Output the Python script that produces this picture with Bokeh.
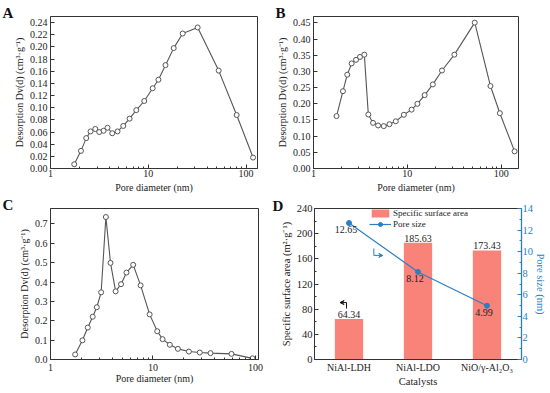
from bokeh.plotting import figure
from bokeh.layouts import column, row
from bokeh.models import (Range1d, FactorRange, LinearAxis, FixedTicker, SingleIntervalTicker,
                          PrintfTickFormatter, NumeralTickFormatter, Legend, LegendItem,
                          Arrow, VeeHead, ColumnDataSource)
from bokeh.core.properties import value
from bokeh.embed import file_html
from bokeh.resources import INLINE

# ---------------- data ----------------
A_d = [1.75, 2.05, 2.32, 2.57, 2.87, 3.15, 3.49, 3.83, 4.28, 4.85, 5.55, 6.44, 7.54, 9.1,
       11.1, 12.7, 15.0, 18.2, 22.5, 32.0, 52.5, 80.2, 118]
A_v = [0.007, 0.029, 0.050, 0.061, 0.065, 0.060, 0.062, 0.067, 0.058, 0.061, 0.070, 0.082,
       0.096, 0.111, 0.132, 0.146, 0.170, 0.198, 0.222, 0.232, 0.161, 0.088, 0.018]

B_d = [1.76, 2.06, 2.29, 2.55, 2.84, 3.13, 3.48, 3.84, 4.31, 4.88, 5.61, 6.45, 7.53, 9.18,
       11.1, 12.8, 15.3, 18.7, 23.4, 31.7, 52.3, 76.9, 96.8, 139]
B_v = [0.162, 0.239, 0.290, 0.325, 0.336, 0.345, 0.352, 0.167, 0.141, 0.133, 0.131, 0.137,
       0.146, 0.166, 0.182, 0.200, 0.227, 0.260, 0.303, 0.352, 0.451, 0.255, 0.171, 0.053]

C_d = [1.74, 2.05, 2.31, 2.58, 2.83, 3.12, 3.47, 3.85, 4.32, 4.88, 5.51, 6.41, 7.57, 9.27,
       11.0, 12.4, 14.6, 17.5, 22.4, 28.6, 36.4, 58.3, 93.5]
C_v = [0.026, 0.099, 0.165, 0.221, 0.270, 0.347, 0.736, 0.499, 0.352, 0.389, 0.449, 0.489,
       0.383, 0.233, 0.146, 0.105, 0.076, 0.055, 0.041, 0.036, 0.033, 0.029, 0.006]

catalysts = ["NiAl-LDH", "NiAl-LDO", "NiO/γ-Al₂O₃"]
surface_area = [64.34, 185.63, 173.43]
pore_size = [12.65, 8.12, 4.99]

x_ticks = [1, 10, 100]
x_label = "Pore diameter (nm)"
y_label = "Desorption Dv(d) (cm³·g⁻¹)"

FONT = "Liberation Serif"
INK = "#222222"
LINE = "#555555"
BAR = "#F98379"
BLUE = "#2a7fc4"


def style_axis(ax, tick_size="10px", label_size="10px"):
    ax.axis_label_text_font = FONT
    ax.axis_label_text_font_style = "normal"
    ax.axis_label_text_font_size = label_size
    ax.axis_label_text_color = INK
    ax.major_label_text_font = FONT
    ax.major_label_text_font_size = tick_size
    ax.major_label_text_color = INK
    ax.axis_line_color = "#333333"
    ax.major_tick_line_color = "#333333"
    ax.minor_tick_line_color = "#333333"
    ax.major_tick_in = 4
    ax.major_tick_out = 0
    ax.minor_tick_in = 2
    ax.minor_tick_out = 0
    ax.major_label_standoff = 3
    ax.axis_label_standoff = 2


def letter(p, txt, offset, standoff):
    p.title.text = txt
    p.title.text_font = FONT
    p.title.text_font_size = "15px"
    p.title.text_font_style = "bold"
    p.title.text_color = "#111111"
    p.title.align = "left"
    p.title.vertical_align = "middle"
    p.title.offset = offset
    p.title.standoff = standoff


def psd_panel(d, v, x_end, y_end, y_step, y_fmt, w, h, bl, br, bt, bb, tag, s1, s2):
    p = figure(width=w, height=h, x_axis_type="log", output_backend="svg",
               toolbar_location=None, x_range=Range1d(1, x_end), y_range=Range1d(0, y_end),
               min_border_left=bl, min_border_right=br, min_border_top=bt, min_border_bottom=bb)
    p.xgrid.visible = False
    p.ygrid.visible = False
    p.outline_line_color = "#333333"
    p.outline_line_width = 1
    p.background_fill_color = "white"
    p.border_fill_color = "white"
    minor = [m * 10 ** e for e in range(0, 3) for m in range(2, 10)]
    p.xaxis.ticker = FixedTicker(ticks=x_ticks, minor_ticks=minor)
    p.xaxis.formatter = NumeralTickFormatter(format="0")
    p.yaxis.ticker = SingleIntervalTicker(interval=y_step, num_minor_ticks=0)
    p.yaxis.formatter = PrintfTickFormatter(format=y_fmt)
    p.xaxis.axis_label = x_label
    p.yaxis.axis_label = y_label
    style_axis(p.xaxis[0])
    style_axis(p.yaxis[0])
    p.xaxis.major_label_standoff = s1
    p.xaxis.axis_label_standoff = s2
    src = ColumnDataSource(dict(d=d, v=v))
    p.line("d", "v", source=src, line_color=LINE, line_width=1.1)
    p.scatter("d", "v", source=src, size=5, marker="circle", line_color=LINE,
              fill_color="white", line_width=1)
    letter(p, tag, 2 - bl, -11)
    return p


pA = psd_panel(A_d, A_v, 131, 0.25, 0.02, "%.2f", 272, 196, 50, 15, 16, 28, "A", 1, 2)
pB = psd_panel(B_d, B_v, 153, 0.47, 0.05, "%.2f", 278, 196, 41, 32, 16, 28, "B", 1, 2)
pC = psd_panel(C_d, C_v, 107, 0.78, 0.1, "%.1f", 272, 197, 50, 14, 12, 34, "C", 4, -1)
pB.title.offset = 3 - 41

# ---------------- panel D ----------------
wD, hD, blD, brD, btD, bbD = 278, 197, 42, 29, 9, 32
pD = figure(width=wD, height=hD, output_backend="svg", toolbar_location=None,
            x_range=FactorRange(factors=catalysts, range_padding=0), y_range=Range1d(0, 240),
            min_border_left=blD, min_border_right=brD, min_border_top=btD, min_border_bottom=bbD)
pD.extra_y_ranges = {"pore": Range1d(0, 14)}
pD.xgrid.visible = False
pD.ygrid.visible = False
pD.outline_line_color = "#333333"
pD.background_fill_color = "white"
pD.border_fill_color = "white"

srcD = ColumnDataSource(dict(cat=catalysts, sa=surface_area, ps=pore_size,
                             sa_txt=["%.2f" % s for s in surface_area],
                             ps_txt=["%.2f" % s for s in pore_size]))
bar_r = pD.vbar(x="cat", top="sa", width=0.41, source=srcD, fill_color=BAR, line_color=None)
line_r = pD.line(x="cat", y="ps", source=srcD, y_range_name="pore", line_color=BLUE, line_width=1.2)
dot_r = pD.scatter(x="cat", y="ps", source=srcD, y_range_name="pore", size=5, marker="circle",
                   fill_color=BLUE, line_color=BLUE)
pD.text(x="cat", y="sa", text="sa_txt", source=srcD, text_font=value(FONT),
        text_align="center", text_baseline="bottom", y_offset=-1, text_font_size="10px",
        text_color=INK)
pD.text(x="cat", y="ps", text="ps_txt", source=srcD, y_range_name="pore", text_font=value(FONT),
        text_align="center", text_baseline="top", y_offset=3, x_offset=-3, text_font_size="10px",
        text_color=INK)

pD.yaxis.ticker = SingleIntervalTicker(interval=40, num_minor_ticks=2)
pD.yaxis.axis_label = "Specific surface area (m²·g⁻¹)"
pD.xaxis.axis_label = "Catalysts"
style_axis(pD.yaxis[0], "10.5px", "10.5px")
style_axis(pD.xaxis[0], "10px", "10.5px")
pD.xaxis.major_tick_in = 0
pD.xaxis.major_label_standoff = 2
pD.xaxis.axis_label_standoff = 0
pD.yaxis.major_label_standoff = 2

ax_r = LinearAxis(y_range_name="pore", axis_label="Pore size (nm)",
                  ticker=SingleIntervalTicker(interval=2, num_minor_ticks=2))
style_axis(ax_r, "10.5px", "10.5px")
ax_r.axis_line_color = BLUE
ax_r.major_tick_line_color = BLUE
ax_r.minor_tick_line_color = BLUE
ax_r.major_label_text_color = BLUE
ax_r.axis_label_text_color = BLUE
ax_r.axis_line_width = 1.3
ax_r.major_label_standoff = 1
ax_r.axis_label_standoff = -1
pD.add_layout(ax_r, "right")

# axis indicator arrows
pD.segment(x0=[0.464], y0=[81], x1=[0.464], y1=[90.5], line_color="#111111", line_width=1)
pD.add_layout(Arrow(x_start=0.464, y_start=90.5, x_end=0.37, y_end=90.5, line_color="#111111",
                    line_width=1, end=VeeHead(size=4, line_color="#111111", line_width=1)))
pD.segment(x0=[0.86], y0=[10.3], x1=[0.86], y1=[9.65], y_range_name="pore",
           line_color=BLUE, line_width=1)
pD.add_layout(Arrow(x_start=0.86, y_start=9.65, x_end=0.99, y_end=9.65, y_range_name="pore",
                    line_color=BLUE, line_width=1,
                    end=VeeHead(size=4, line_color=BLUE, fill_color=BLUE, line_width=1)))

legend = Legend(items=[LegendItem(label="Specific surface area", renderers=[bar_r]),
                       LegendItem(label="Pore size", renderers=[line_r, dot_r])],
                location=(55, 130), orientation="vertical", padding=0, margin=0, spacing=0,
                glyph_width=22, glyph_height=10, label_height=11, label_standoff=2,
                label_text_font=FONT, label_text_font_size="9px", label_text_color=INK,
                border_line_color=None, background_fill_alpha=0)
pD.add_layout(legend, "center")

letter(pD, "D", 0 - blD, -13)

layout = column(row(pA, pB), row(pC, pD))
open("out.html", "w").write(file_html(layout, INLINE))
